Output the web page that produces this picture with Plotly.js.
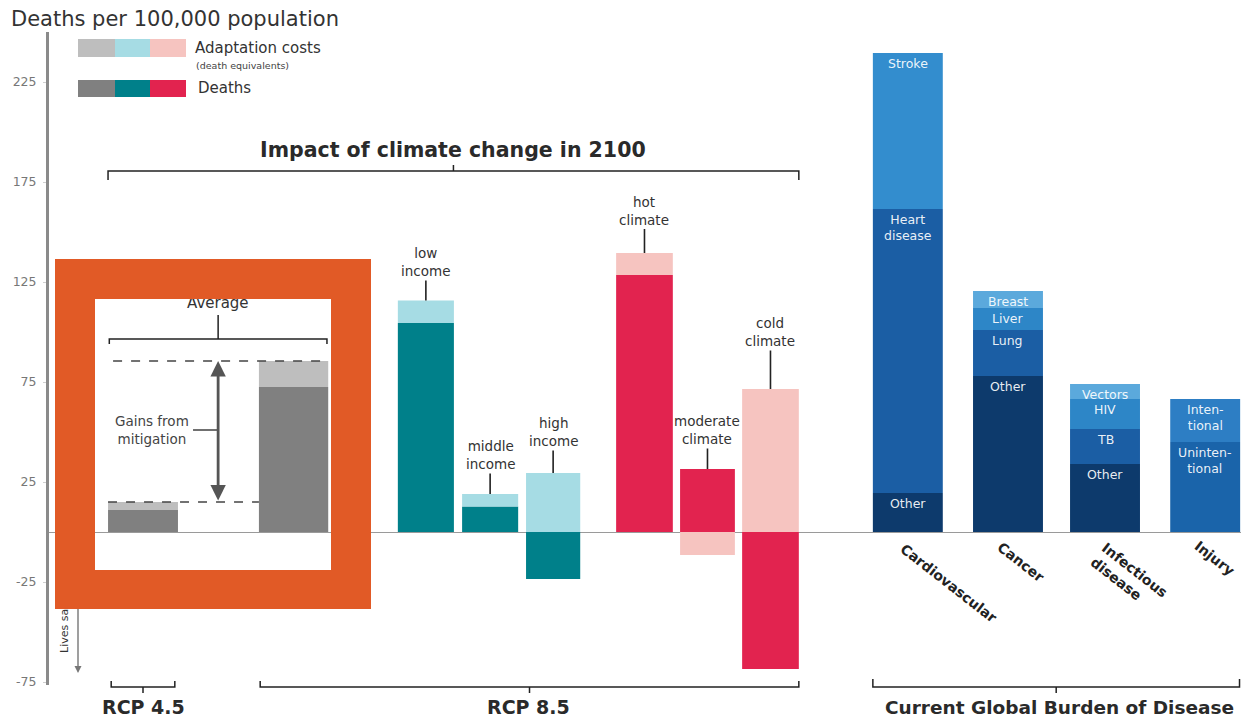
<!DOCTYPE html>
<html><head><meta charset="utf-8">
<script src="https://cdn.plot.ly/plotly-3.0.1.min.js"></script>
<style>
html,body{margin:0;padding:0;background:#fff;}
#wrap{position:relative;width:1241px;height:721px;overflow:hidden;}
#chart{width:1241px;height:721px;}
#frame{position:absolute;left:55px;top:259px;width:236px;height:271px;border-style:solid;border-color:#E15A26;border-width:40px 40px 39px 40px;pointer-events:none;}
</style></head>
<body><div id="wrap"><div id="chart"></div><div id="frame"></div></div>
<script>
// ---------------- data ----------------
const impactCats   = ['RCP 4.5', 'RCP 8.5 average', 'low income', 'middle income', 'high income', 'hot climate', 'moderate climate', 'cold climate'];
const impactDeaths = [11, 72.5, 104.5, 12.7, -23.5, 128.5, 31.5, -68.5];
const impactAdapt  = [4, 13, 11.2, 6.3, 29.5, 11, -11.5, 71.5];
const barLabels    = ['', '', 'low<br>income', 'middle<br>income', 'high<br>income', 'hot<br>climate', 'moderate<br>climate', 'cold<br>climate'];

const diseaseCats  = ['Cardiovascular', 'Cancer', 'Infectious<br>disease', 'Injury'];
const cardioParts  = ['Other', 'Heart<br>disease', 'Stroke'];
const cardioValues = [19.5, 142, 78];
const cancerParts  = ['Other', 'Lung', 'Liver', 'Breast'];
const cancerValues = [78, 23, 11, 8.5];
const infectParts  = ['Other', 'TB', 'HIV', 'Vectors'];
const infectValues = [34, 17.5, 15, 7.5];
const injuryParts  = ['Uninten-<br>tional', 'Inten-<br>tional'];
const injuryValues = [45, 21.5];

const yTicks       = [225, 175, 125, 75, 25, -25, -75];
const groupLabels  = ['RCP 4.5', 'RCP 8.5', 'Current Global Burden of Disease'];
const legendLabels = ['Adaptation costs', '(death equivalents)', 'Deaths'];
const titleText    = 'Deaths per 100,000 population';
const impactTitle  = 'Impact of climate change in 2100';

// ---------------- layout constants ----------------
const W = 1241, H = 721, ML = 48;
const UNIT = 63, X0 = -0.508, X1 = X0 + (W - ML) / UNIT;
const Y0 = -94.5, Y1 = 266;
const impactPos   = [1, 3.39, 5.49, 6.51, 7.51, 8.96, 9.96, 10.96];
const impactWidth = [1.11, 1.1, 0.89, 0.89, 0.86, 0.9, 0.87, 0.9];
const labelLift   = [0, 0, 38.5, 39, 41, 42.5, 39, 57];
const diseasePos  = [13.14, 14.73, 16.27, 17.86];
const diseaseWidth = 1.11;

const GRAY = '#808080', GRAY_L = '#BEBEBE', TEAL = '#00808A', TEAL_L = '#A6DCE4', RED = '#E2234F', RED_L = '#F6C4C0';
const deathColors = [GRAY, GRAY, TEAL, TEAL, TEAL, RED, RED, RED];
const adaptColors = [GRAY_L, GRAY_L, TEAL_L, TEAL_L, TEAL_L, RED_L, RED_L, RED_L];
const cardioColors = ['#0D3A6C', '#1B5EA4', '#338DCE'];
const cancerColors = ['#0D3A6C', '#1B5EA4', '#2D86C7', '#5BA9DC'];
const infectColors = ['#0D3A6C', '#1B5EA4', '#2D86C7', '#5BA9DC'];
const injuryColors = ['#1A64AA', '#2D7EC4'];
const FONT = 'DejaVu Sans, Open Sans, sans-serif';
const DARK = '#2a2a2a';

function P(px, py) { return [(px - ML) / (W - ML), 1 - py / H]; }

// ---------------- traces ----------------
const traces = [];
traces.push({type: 'bar', x: impactPos, y: impactDeaths, width: impactWidth,
  marker: {color: deathColors, line: {width: 0}}, hoverinfo: 'skip'});
traces.push({type: 'bar', x: impactPos, y: impactAdapt, width: impactWidth,
  marker: {color: adaptColors, line: {width: 0}}, hoverinfo: 'skip'});

const groups = [[cardioParts, cardioValues, cardioColors], [cancerParts, cancerValues, cancerColors],
                [infectParts, infectValues, infectColors], [injuryParts, injuryValues, injuryColors]];
const annotations = [];
groups.forEach((g, gi) => {
  let cum = 0;
  g[1].forEach((v, si) => {
    traces.push({type: 'bar', x: [diseasePos[gi]], y: [v], width: [diseaseWidth],
      marker: {color: g[2][si], line: {width: 0}}, hoverinfo: 'skip'});
    cum += v;
    annotations.push({x: diseasePos[gi], y: cum, xref: 'x', yref: 'y', xanchor: 'center', yanchor: 'top', yshift: -1,
      text: g[0][si], showarrow: false, align: 'center',
      font: {family: FONT, size: 12.5, color: 'rgba(255,255,255,0.92)'}});
  });
});

// labels with leader lines over impact bars
impactCats.forEach((c, i) => {
  if (!barLabels[i]) return;
  const top = Math.max(0, impactDeaths[i]) + Math.max(0, impactAdapt[i]);
  annotations.push({x: impactPos[i], y: top, xref: 'x', yref: 'y', text: barLabels[i],
    showarrow: true, arrowhead: 0, arrowwidth: 1.6, arrowcolor: '#222', ax: 0, ay: -labelLift[i],
    standoff: 0, align: 'center', font: {family: FONT, size: 13.5, color: '#333'}});
});

// mitigation gains
const rcp45Total = impactDeaths[0] + impactAdapt[0];
const avgTotal = impactDeaths[1] + impactAdapt[1];
const leftEdge45 = impactPos[0] - impactWidth[0] / 2;
const rightEdgeAvg = impactPos[1] + impactWidth[1] / 2;
const leftEdgeAvg = impactPos[1] - impactWidth[1] / 2;
const rightEdgeCold = impactPos[7] + impactWidth[7] / 2;
const midGain = (leftEdge45 + rightEdgeAvg) / 2;
annotations.push({x: midGain, y: avgTotal, ax: midGain, ay: rcp45Total, xref: 'x', yref: 'y', axref: 'x', ayref: 'y',
  text: '', showarrow: true, arrowside: 'end+start', arrowhead: 2, startarrowhead: 2,
  arrowsize: 1.1, startarrowsize: 1.1, arrowwidth: 2.8, arrowcolor: '#555', standoff: 0, startstandoff: 0});
annotations.push({x: 1.76, y: 51, xref: 'x', yref: 'y', xanchor: 'right', yanchor: 'middle', text: 'Gains from<br>mitigation',
  showarrow: false, align: 'center', font: {family: FONT, size: 13.5, color: '#444'}});
annotations.push({x: midGain, y: 114.5, xref: 'x', yref: 'y', xanchor: 'center', yanchor: 'middle', text: 'Average', showarrow: false,
  font: {family: FONT, size: 15, color: '#333'}});

// group titles
const cardLeft = diseasePos[0] - diseaseWidth / 2, injRight = diseasePos[3] + diseaseWidth / 2;
function centered(obj) { return Object.assign({xanchor: 'center', yanchor: 'middle', showarrow: false}, obj); }
annotations.push(centered({x: (leftEdge45 + rightEdgeCold) / 2, y: 191, xref: 'x', yref: 'y', text: impactTitle,
  font: {family: FONT, size: 20.5, color: DARK, weight: 700}}));
annotations.push(centered({x: impactPos[0], y: -87.5, xref: 'x', yref: 'y', text: groupLabels[0],
  font: {family: FONT, size: 19, color: DARK, weight: 700}}));
annotations.push(centered({x: (leftEdgeAvg + rightEdgeCold) / 2, y: -87.5, xref: 'x', yref: 'y', text: groupLabels[1],
  font: {family: FONT, size: 19, color: DARK, weight: 700}}));
annotations.push(centered({x: (cardLeft + injRight) / 2 + 0.04, y: -87.5, xref: 'x', yref: 'y', text: groupLabels[2],
  font: {family: FONT, size: 18.5, color: DARK, weight: 700}}));

// rotated disease names
const catCenters = [[948.5, 583], [1021, 561.5], [1129, 577], [1214.5, 557.5]];
diseaseCats.forEach((c, i) => {
  const p = P(catCenters[i][0], catCenters[i][1]);
  annotations.push(centered({x: p[0], y: p[1], xref: 'paper', yref: 'paper', text: c, textangle: 38,
    align: 'left', font: {family: FONT, size: 14, color: '#222', weight: 700}}));
});

// title, legend texts
function leftText(px, py, text, size, color) {
  const p = P(px, py);
  return {x: p[0], y: p[1], xref: 'paper', yref: 'paper', xanchor: 'left', yanchor: 'middle', text: text,
    showarrow: false, font: {family: FONT, size: size, color: color}};
}
annotations.push(leftText(9, 19, titleText, 21, '#333'));
annotations.push(leftText(193, 48, legendLabels[0], 15, '#333'));
annotations.push(leftText(194, 66, legendLabels[1], 9.5, '#444'));
annotations.push(leftText(196, 88, legendLabels[2], 15, '#333'));

// lives saved
let p = P(78, 673);
annotations.push({x: p[0], y: p[1], xref: 'paper', yref: 'paper', text: '', showarrow: true, ax: 0, ay: -125,
  arrowhead: 2, arrowsize: 1, arrowwidth: 1.4, arrowcolor: '#777', standoff: 0});
p = P(64, 621);
annotations.push(centered({x: p[0], y: p[1], xref: 'paper', yref: 'paper', text: 'Lives saved', textangle: -90,
  font: {family: FONT, size: 11, color: '#333'}}));

// ---------------- shapes ----------------
const shapes = [];
function bracket(xa, xb, y, endD, midD) {
  const xm = (xa + xb) / 2;
  return {type: 'path', xref: 'x', yref: 'y', layer: 'above',
    path: `M${xa},${y + endD} L${xa},${y} L${xb},${y} L${xb},${y + endD} M${xm},${y} L${xm},${y + midD}`,
    line: {color: '#222', width: 1.5}};
}
shapes.push(bracket(leftEdge45, rightEdgeCold, 180.5, -4.5, 3));
shapes.push(bracket(leftEdge45 + 0.02, rightEdgeAvg - 0.02, 96.5, -2.5, 12));
shapes.push(bracket(leftEdge45 + 0.05, impactPos[0] + impactWidth[0] / 2 - 0.05, -77.5, 3, -3));
shapes.push(bracket(leftEdgeAvg + 0.02, rightEdgeCold, -77.5, 3, -3));
shapes.push(bracket(cardLeft, injRight - 0.01, -77.5, 4, -3));

// dashed reference lines
shapes.push({type: 'line', xref: 'x', yref: 'y', x0: leftEdge45 + 0.08, x1: rightEdgeAvg, y0: avgTotal, y1: avgTotal,
  line: {color: '#444', width: 1.4, dash: 'dash'}, layer: 'above'});
shapes.push({type: 'line', xref: 'x', yref: 'y', x0: leftEdge45, x1: leftEdgeAvg, y0: rcp45Total, y1: rcp45Total,
  line: {color: '#444', width: 1.4, dash: 'dash'}, layer: 'above'});
// gains leader
shapes.push({type: 'line', xref: 'x', yref: 'y', x0: 1.794, x1: midGain, y0: 51, y1: 51,
  line: {color: '#333', width: 1.4}});

// y axis line
let a = P(47.5, 685), b = P(47.5, 32);
shapes.push({type: 'line', xref: 'paper', yref: 'paper', x0: a[0], x1: b[0], y0: a[1], y1: b[1],
  line: {color: '#8a8a8a', width: 3}});

// legend swatches
const legendX = [78, 115, 150, 186];
[[39, 57, adaptColors], [80, 97, deathColors]].forEach(row => {
  [0, 2, 5].forEach((ci, k) => {
    const q0 = P(legendX[k], row[1]), q1 = P(legendX[k + 1], row[0]);
    shapes.push({type: 'rect', xref: 'paper', yref: 'paper', x0: q0[0], x1: q1[0], y0: q0[1], y1: q1[1],
      fillcolor: row[2][ci], line: {width: 0}});
  });
});

const layout = {
  width: W, height: H, autosize: false,
  margin: {l: ML, r: 0, t: 0, b: 0, pad: 0},
  paper_bgcolor: '#fff', plot_bgcolor: '#fff',
  barmode: 'relative', showlegend: false, hovermode: false,
  font: {family: FONT, color: '#333'},
  xaxis: {range: [X0, X1], visible: false, fixedrange: true},
  yaxis: {range: [Y0, Y1], tickvals: yTicks, ticktext: yTicks.map(String), ticks: 'outside', ticklen: 4,
    tickcolor: '#cfcfcf', tickwidth: 1, ticklabelstandoff: 4, showgrid: false, showline: false,
    zeroline: true, zerolinecolor: '#9a9a9a', zerolinewidth: 1, automargin: false, fixedrange: true,
    tickfont: {family: FONT, size: 12.5, color: '#777'}},
  shapes: shapes, annotations: annotations
};
Plotly.newPlot('chart', traces, layout, {displayModeBar: false, staticPlot: true});
</script>
</body></html>
